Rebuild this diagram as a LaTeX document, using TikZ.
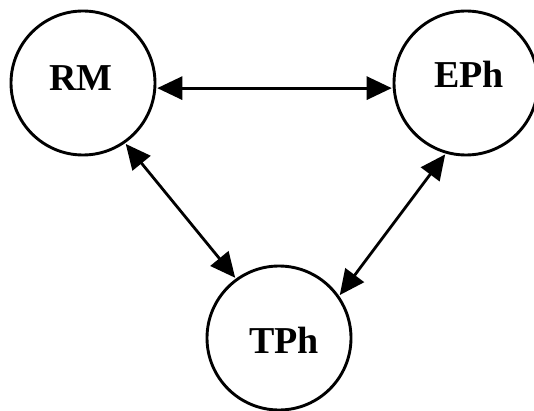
\documentclass[tikz,border=0pt]{standalone}
\usepackage{fontspec}
\setmainfont{Liberation Serif}
\usetikzlibrary{arrows.meta}
\begin{document}
\begin{tikzpicture}[x=1pt,y=1pt,
  blob/.style={circle,draw,line width=2.9pt,minimum size=144pt,inner sep=0pt},
  lbl/.style={font=\fontsize{38}{40}\selectfont\bfseries,inner sep=0pt},
  link/.style={line width=2.8pt,{Triangle[length=25pt,width=23pt]}-{Triangle[length=25pt,width=23pt]},shorten <=1pt,shorten >=1pt}]
\useasboundingbox (0,0) rectangle (534,410);
\node[blob] (rm) at (83,327) {};
\node[blob] (eph) at (466,327) {};
\node[blob] (tph) at (279,72) {};
\node[lbl] (rmt) at (81,332) {RM};
\node[lbl] (epht) at (469,336) {EPh};
\node[lbl] (tpht) at (284,70) {TPh};
\draw[link] (rm.-4) -- (eph.184);
\draw[link] (rm.-55) -- (tph.126);
\draw[link] (eph.-106) -- (tph.35);
\end{tikzpicture}
\end{document}
